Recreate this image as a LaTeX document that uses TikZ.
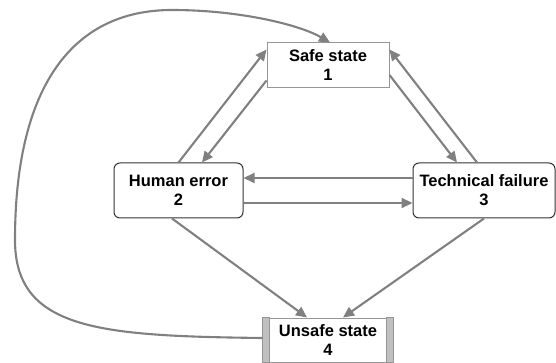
\documentclass[tikz,border=0pt]{standalone}
\usepackage{fontspec}
\setmainfont{Liberation Sans}
\usetikzlibrary{arrows.meta}
\definecolor{arrowgray}{RGB}{128,128,128}
\definecolor{boxgray}{RGB}{150,150,150}
\definecolor{bargray}{RGB}{192,192,192}
\begin{document}
\begin{tikzpicture}[x=1pt,y=-1pt,
    statebox/.style={draw=boxgray,line width=1pt,fill=white,align=center,inner sep=0pt,font=\fontsize{16.5}{19}\selectfont\bfseries},
    eventbox/.style={statebox,draw=black!80,rounded corners=6pt},
    arc/.style={draw=arrowgray,line width=2.1pt,-{Triangle[length=11pt,width=10pt]}}]
    \useasboundingbox (0,0) rectangle (556,363);
    \node[statebox,minimum width=122pt,minimum height=45pt] (safe) at (328,65.5) {Safe state\\1};
    \node[eventbox,minimum width=129pt,minimum height=55pt] (human) at (178.5,190.5) {Human error\\2};
    \node[eventbox,minimum width=142pt,minimum height=55pt] (tech) at (484,190.5) {Technical failure\\3};
    \node[statebox,minimum width=130pt,minimum height=44pt] (unsafe) at (328,340) {Unsafe state\\4};
    \draw[boxgray,fill=bargray] (unsafe.north west) rectangle ([xshift=7pt]unsafe.south west);
    \draw[boxgray,fill=bargray] ([xshift=-7pt]unsafe.north east) rectangle (unsafe.south east);
    % safe <-> human error
    \draw[arc] (human.north) -- ([yshift=-7pt]safe.north west);
    \draw[arc] ([yshift=8pt]safe.south west) -- ([xshift=23.5pt]human.north);
    % safe <-> technical failure
    \draw[arc] ([xshift=-7pt]tech.north) -- ([yshift=-7pt]safe.north east);
    \draw[arc] ([yshift=-9.5pt]safe.east) -- ([xshift=-27pt]tech.north);
    % human error <-> technical failure
    \draw[arc] ([yshift=12.5pt]tech.west) -- ([yshift=12.5pt]human.east);
    \draw[arc] ([yshift=-12.5pt]human.east) -- ([yshift=-12.5pt]tech.west);
    % into unsafe state
    \draw[arc] ([xshift=-6.5pt]human.south) -- ([xshift=-21pt]unsafe.north);
    \draw[arc] (tech.south) -- ([xshift=15pt]unsafe.north);
    % back to safe state
    \draw[arc] ([yshift=2pt]unsafe.west) .. controls (100,336) and (15,330) .. (15,240)
        .. controls (15,90) and (70,10) .. (172,10) .. controls (240,10) and (300,25) .. ([xshift=2pt]safe.north);
\end{tikzpicture}
\end{document}
